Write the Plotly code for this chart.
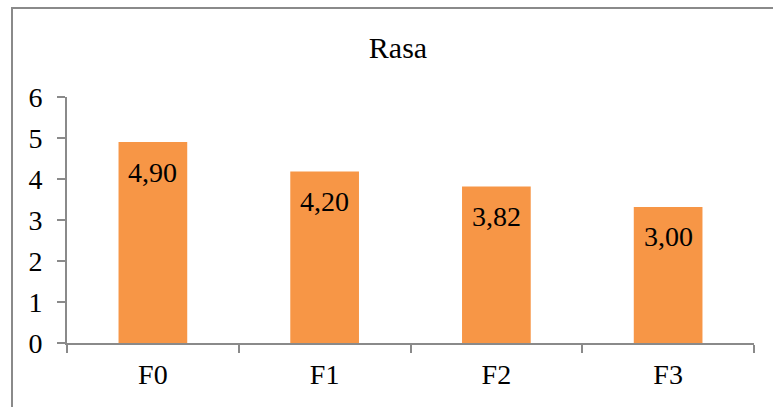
import plotly.graph_objects as go

categories = ["F0", "F1", "F2", "F3"]
values = [4.90, 4.18, 3.82, 3.32]
labels = ["4,90", "4,20", "3,82", "3,00"]
y_ticks = [0, 1, 2, 3, 4, 5, 6]
title_text = "Rasa"

FONT = "Liberation Serif"
AXIS_COLOR = "#8a8a8a"
BAR_COLOR = "#F79646"

W, H = 773, 407
L, R, T, B = 67, 19, 97, 64

fig = go.Figure()
fig.add_trace(go.Bar(x=categories, y=values, marker=dict(color=BAR_COLOR, line=dict(width=0)),
                     hoverinfo="skip"))

for c, v, t in zip(categories, values, labels):
    fig.add_annotation(x=c, y=v, text=t, showarrow=False, yshift=-30, yanchor="middle",
                       font=dict(family=FONT, size=28, color="#000000"))

pw = W - L - R
ph = H - T - B
fig.add_shape(type="rect", xref="paper", yref="paper",
              x0=(12 - L) / pw, x1=(W + 20 - L) / pw,
              y0=-(H + 20 - (H - B)) / ph, y1=((H - B) - 8) / ph,
              line=dict(color=AXIS_COLOR, width=2), fillcolor="rgba(0,0,0,0)", layer="below")

fig.update_layout(
    width=W, height=H,
    margin=dict(l=L, r=R, t=T, b=B, pad=0),
    paper_bgcolor="white", plot_bgcolor="white",
    bargap=0.6,
    showlegend=False,
    title=dict(text=title_text, x=(398) / W, xanchor="center", y=1 - 47 / H, yanchor="middle",
               font=dict(family=FONT, size=30, color="#000000")),
    font=dict(family=FONT, size=28, color="#000000"),
)
fig.update_xaxes(
    showline=True, linecolor=AXIS_COLOR, linewidth=2,
    ticks="outside", tickson="boundaries", ticklen=8, tickcolor=AXIS_COLOR, tickwidth=2,
    showgrid=False, zeroline=False, ticklabelstandoff=5,
    tickfont=dict(family=FONT, size=28, color="#000000"),
)
fig.update_yaxes(
    range=[0, 6], tickvals=y_ticks, ticktext=[str(v) for v in y_ticks],
    showline=True, linecolor=AXIS_COLOR, linewidth=2,
    ticks="outside", ticklen=8, tickcolor=AXIS_COLOR, tickwidth=2,
    showgrid=False, zeroline=False, ticklabelstandoff=9,
    tickfont=dict(family=FONT, size=28, color="#000000"),
)

fig.write_html("out.html")
